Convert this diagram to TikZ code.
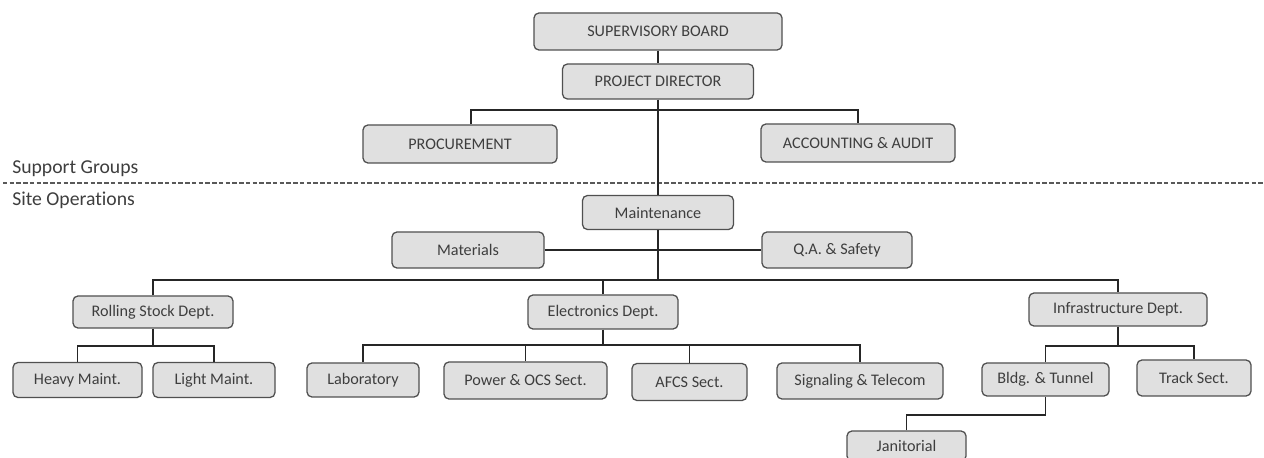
\documentclass[tikz,border=0pt]{standalone}
\usepackage{fontspec}
\setmainfont{Carlito}[Ligatures=NoCommon]
\usetikzlibrary{calc}
\definecolor{boxfill}{RGB}{224,224,224}
\definecolor{boxline}{RGB}{80,80,80}
\definecolor{inkgray}{RGB}{62,62,62}
\tikzset{
  unit/.style={draw=boxline, line width=0.9pt, fill=boxfill, rounded corners=3.5pt,
    inner sep=0pt, text=inkgray, font=\fontsize{11.5}{13}\selectfont},
  dims/.style 2 args={minimum width=#1*0.025cm, minimum height=#2*0.025cm},
  link/.style={draw=black!85, line width=1.35pt},
  zone/.style={text=inkgray, font=\fontsize{14}{16}\selectfont, anchor=base west, inner sep=0pt}
}
\begin{document}
\begin{tikzpicture}[x=0.025cm, y=-0.025cm]
          \useasboundingbox (0,0) rectangle (1264,458);
          \clip (0,0) rectangle (1264,458);

          \node[unit, dims={248}{37}] (sb) at (658,31.5) {SUPERVISORY BOARD};
          \node[unit, dims={191}{35}] (pd) at (658,81.5) {PROJECT DIRECTOR};
          \node[unit, dims={194}{38}] (proc) at (460,144) {PROCUREMENT};
          \node[unit, dims={194}{38}] (acct) at (858,143) {ACCOUNTING \& AUDIT};

          % support / site divider
          \draw[gray!70!black, line width=1.3pt, dash pattern=on 3.2pt off 1.6pt] (3,183) -- (1264,183);
          \node[zone] (sup) at (12,174) {Support Groups};
          \node[zone] (site) at (12,206) {Site Operations};

          \node[unit, dims={151}{34}] (maint) at (658,212.5) {Maintenance};
          \node[unit, dims={152}{36}] (mat) at (468,250) {Materials};
          \node[unit, dims={150}{36}] (qa) at (837,250) {Q.A. \& Safety};

          \node[unit, dims={160}{32}] (rsd) at (153,312) {Rolling Stock Dept.};
          \node[unit, dims={150}{34}] (ed) at (603,312) {Electronics Dept.};
          \node[unit, dims={178}{33}] (infra) at (1118,309.5) {Infrastructure Dept.};

          \node[unit, dims={129}{35}] (heavy) at (77.5,380) {Heavy Maint.};
          \node[unit, dims={122}{35}] (light) at (214,380) {Light Maint.};
          \node[unit, dims={112}{34}] (lab) at (363,380) {Laboratory};
          \node[unit, dims={163}{37}] (power) at (525.5,380.5) {Power \& OCS Sect.};
          \node[unit, dims={115}{37}] (afcs) at (689.5,382) {AFCS Sect.};
          \node[unit, dims={166}{36}] (sig) at (860,381) {Signaling \& Telecom};
          \node[unit, dims={127}{33}] (bldg) at (1045.5,379.5) {Bldg. \& Tunnel};
          \node[unit, dims={114}{36}] (track) at (1194,378) {Track Sect.};
          \node[unit, dims={119}{30}] (jan) at (906.5,446) {Janitorial};

          \coordinate (sg) at (658,110);
          \coordinate (ops) at (658,280);
          \coordinate (rsj) at (153,346);
          \coordinate (edj) at (603,345);
          \coordinate (infj) at (1118,346);

          \path[link]
          (sb) edge (pd)
          (pd.south) edge (maint.north)
          (mat.east) edge (mat.east -| qa.west)
          (maint.south) edge (ops)
          (ed.north) edge (ed.north |- ops)
          (rsd.south) edge (rsj)
          (ed.south) edge (edj)
          (infra.south) edge (infj)
          (power.north) edge (power.north |- edj)
          (afcs.north) edge (afcs.north |- edj);

          \draw[link] ($(proc.north)+(11,0)$) |- (sg) -| (acct.north);
          \draw[link] (rsd.north) |- (ops) -| (infra.north);
          \draw[link] (heavy.north) |- (rsj) -| (light.north);
          \draw[link] (lab.north) |- (edj) -| (sig.north);
          \draw[link] (bldg.north) |- (infj) -| (track.north);
          \draw[link] (jan.north) |- ($(bldg.south)+(0,18)$) -- (bldg.south);
        \end{tikzpicture}
\end{document}
